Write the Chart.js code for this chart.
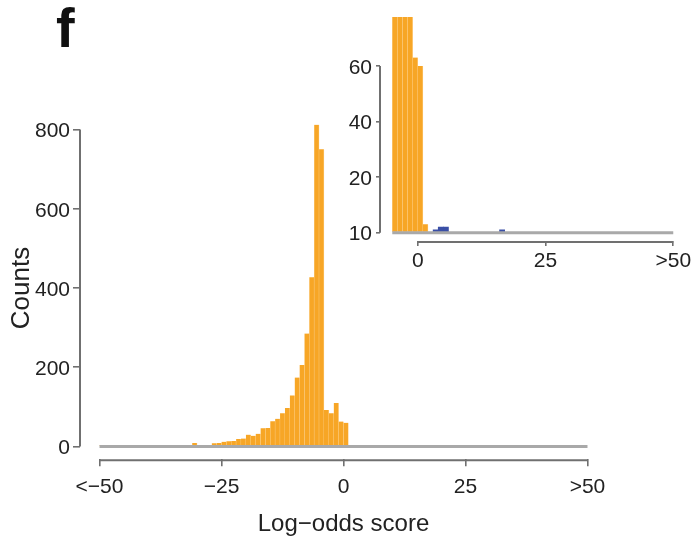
<!DOCTYPE html>
<html>
<head>
<meta charset="utf-8">
<script src="https://cdn.jsdelivr.net/npm/chart.js@4"></script>
<style>
  html, body { margin: 0; padding: 0; background: #fff; }
  #wrap { position: relative; width: 694px; height: 544px; }
  #wrap canvas { position: absolute; left: 0; top: 0; }
  #panel { position: absolute; left: 56px; top: 0px; font: bold 56px "Liberation Sans", Arial, sans-serif; line-height: 56px; color: #111; }
</style>
</head>
<body>
<div id="wrap">
  <canvas id="main" width="694" height="544"></canvas>
  <canvas id="inset" width="694" height="544"></canvas>
  <div id="panel">f</div>
</div>
<script>
// bin left edges and counts (score bins of width 1, first bin also holds < -50)
const orangeBins = [-50, -37, -35, -34, -33, -32, -31, -30, -29, -28, -27, -26, -25, -24, -23, -22, -21, -20, -19, -18,
  -17, -16, -15, -14, -13, -12, -11, -10, -9, -8, -7, -6, -5, -4, -3, -2, -1, 0, 1];
const orangeCounts = [4, 1, 1, 1, 2, 1, 9, 2, 1, 2, 8, 9, 12, 13, 14, 19, 20, 30, 27, 32,
  46, 47, 64, 70, 84, 97, 129, 174, 206, 285, 427, 812, 750, 92, 84, 110, 63, 60, 3];
const blueBins = [3, 4, 5, 16];
const blueCounts = [1, 2, 2, 1];

// axis ticks
const mainXTicks = [-50, -25, 0, 25, 50];
const mainXLabels = ['<\u221250', '\u221225', '0', '25', '>50'];
const mainYTicks = [0, 200, 400, 600, 800];
const insetXTicks = [0, 25, 50];
const insetXLabels = ['0', '25', '>50'];
const insetYTicks = [0, 20, 40, 60];
const insetYLabels = ['10', '20', '40', '60'];

const ORANGE = '#F7A626';
const BLUE = '#3A4FA6';
const AXIS = '#707070';

Chart.defaults.font.family = '"Liberation Sans", Arial, sans-serif';
Chart.defaults.color = '#222';

function toPoints(bins, counts, fromBin) {
	const pts = [];
	bins.forEach(function (b, i) {
		if (b >= fromBin) pts.push({ x: b + 0.5, y: counts[i] });
	});
	return pts;
}

// grey zero line + R-style axis lines that only span the ticks
const axisLines = {
	id: 'axisLines',
	afterDatasetsDraw(chart, args, opts) {
		const { ctx, chartArea } = chart;
		const x = chart.scales.x, y = chart.scales.y;
		ctx.save();
		ctx.strokeStyle = '#a9a9a9';
		ctx.lineWidth = 3;
		ctx.beginPath();
		ctx.moveTo(x.getPixelForValue(opts.from), y.getPixelForValue(0));
		ctx.lineTo(x.getPixelForValue(opts.to), y.getPixelForValue(0));
		ctx.stroke();

		ctx.strokeStyle = AXIS;
		ctx.lineWidth = 2;
		const xt = x.ticks, yt = y.ticks;
		ctx.beginPath();
		ctx.moveTo(x.getPixelForValue(xt[0].value), chartArea.bottom + 1);
		ctx.lineTo(x.getPixelForValue(xt[xt.length - 1].value), chartArea.bottom + 1);
		ctx.moveTo(chartArea.left, y.getPixelForValue(yt[0].value));
		ctx.lineTo(chartArea.left, y.getPixelForValue(yt[yt.length - 1].value));
		ctx.stroke();
		ctx.restore();
	}
};

function makeChart(id, cfg) {
	const ctx = document.getElementById(id).getContext('2d');
	return new Chart(ctx, {
		type: 'bar',
		data: {
			datasets: [
				{
					data: toPoints(orangeBins, orangeCounts, cfg.fromBin),
					backgroundColor: ORANGE,
					borderColor: 'rgba(255,214,150,0.9)',
					borderWidth: { left: 0, right: 0.6, top: 0, bottom: 0 },
					grouped: false,
					barPercentage: 1,
					categoryPercentage: 1
				},
				{
					data: toPoints(blueBins, blueCounts, cfg.fromBin),
					backgroundColor: BLUE,
					borderWidth: 0,
					grouped: false,
					barPercentage: 1,
					categoryPercentage: 1
				}
			]
		},
		options: {
			responsive: false,
			animation: false,
			events: [],
			layout: { padding: cfg.padding },
			plugins: {
				legend: { display: false },
				tooltip: { enabled: false },
				axisLines: { from: cfg.lineFrom, to: 50 }
			},
			scales: {
				x: {
					type: 'linear',
					min: cfg.xMin,
					max: cfg.xMax,
					offset: false,
					afterFit: function (scale) { scale.height = cfg.xHeight; },
					afterBuildTicks: function (scale) {
						scale.ticks = cfg.xTicks.map(function (v) { return { value: v }; });
					},
					border: { display: false },
					grid: { offset: false, drawOnChartArea: false, drawTicks: true, tickLength: cfg.xTickLen, color: AXIS, lineWidth: 1.6 },
					ticks: {
						autoSkip: false,
						maxRotation: 0,
						padding: cfg.xTickPad,
						font: { size: 21 },
						callback: function (v, i) { return cfg.xLabels[i]; }
					},
					title: cfg.xTitle
				},
				y: {
					type: 'linear',
					min: cfg.yMin,
					max: cfg.yMax,
					afterFit: function (scale) { scale.width = cfg.yWidth; },
					afterBuildTicks: function (scale) {
						scale.ticks = cfg.yTicks.map(function (v) { return { value: v }; });
					},
					border: { display: false },
					grid: { drawOnChartArea: false, drawTicks: true, tickLength: cfg.yTickLen, color: AXIS, lineWidth: 1.6 },
					ticks: {
						autoSkip: false,
						padding: cfg.yTickPad,
						labelOffset: 2,
						font: { size: 21 },
						callback: function (v, i) { return cfg.yLabels[i]; }
					},
					title: cfg.yTitle
				}
			}
		},
		plugins: [axisLines]
	});
}

// main histogram
makeChart('main', {
	fromBin: -50,
	lineFrom: -50,
	xMin: -54, xMax: 54,
	yMin: -32, yMax: 832,
	padding: { left: 0, top: 116.8, right: 87, bottom: 0 },
	xHeight: 84.8, yWidth: 80,
	xTicks: mainXTicks, xLabels: mainXLabels,
	yTicks: mainYTicks, yLabels: mainYTicks.map(String),
	xTickLen: 7, xTickPad: 8,
	yTickLen: 7, yTickPad: 3,
	xTitle: { display: true, text: 'Log\u2212odds score', font: { size: 24 }, padding: { top: 0, bottom: 5.6 } },
	yTitle: { display: true, text: 'Counts', font: { size: 26 }, padding: { top: 6, bottom: 0 } }
});

// inset, zoomed on the low counts
makeChart('inset', {
	fromBin: -5,
	lineFrom: -5,
	xMin: -7.4, xMax: 52.2,
	yMin: -3, yMax: 77.6,
	padding: { left: 300, top: 17, right: 9.5, bottom: 0 },
	xHeight: 303, yWidth: 80,
	xTicks: insetXTicks, xLabels: insetXLabels,
	yTicks: insetYTicks, yLabels: insetYLabels,
	xTickLen: 5, xTickPad: 2.4,
	yTickLen: 4, yTickPad: 4,
	xTitle: { display: false },
	yTitle: { display: false }
});
</script>
</body>
</html>
